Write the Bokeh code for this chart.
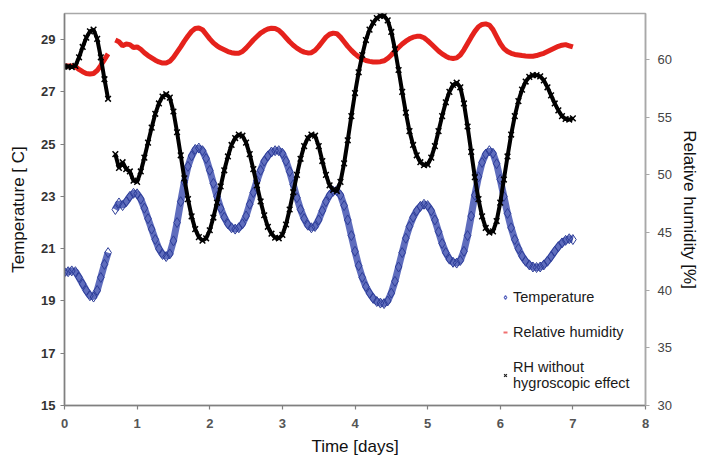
from bokeh.plotting import figure
from bokeh.models import Range1d, LinearAxis, FixedTicker, Legend, LegendItem, ColumnDataSource
from bokeh.embed import file_html
from bokeh.resources import INLINE

N = float("nan")

time_days = [round(0.05 * i, 2) for i in range(141)]

temperature = [
    20.10, 20.12, 20.15, 20.12, 19.90, 19.65, 19.40, 19.20, 19.15, 19.40,
    19.90, 20.40, 20.85, N, 22.50, 22.75, 22.65, 22.80, 23.00, 23.12,
    23.10, 22.90, 22.55, 22.15, 21.75, 21.35, 21.00, 20.78, 20.70, 20.80,
    21.30, 22.00, 22.80, 23.55, 24.15, 24.55, 24.80, 24.85, 24.75, 24.45,
    24.00, 23.50, 23.00, 22.55, 22.20, 21.95, 21.80, 21.75, 21.80, 21.95,
    22.25, 22.70, 23.15, 23.60, 24.00, 24.35, 24.55, 24.70, 24.75, 24.75,
    24.65, 24.35, 23.95, 23.45, 22.95, 22.50, 22.15, 21.90, 21.80, 21.85,
    22.10, 22.45, 22.80, 23.05, 23.20, 23.22, 23.05, 22.65, 22.10, 21.50,
    20.90, 20.35, 19.90, 19.55, 19.30, 19.10, 18.98, 18.92, 18.90, 19.00,
    19.30, 19.75, 20.30, 20.85, 21.40, 21.85, 22.20, 22.45, 22.62, 22.70,
    22.65, 22.45, 22.10, 21.65, 21.20, 20.85, 20.60, 20.48, 20.45, 20.55,
    20.90, 21.50, 22.25, 23.05, 23.75, 24.30, 24.62, 24.75, 24.65, 24.25,
    23.65, 23.00, 22.35, 21.80, 21.35, 21.00, 20.72, 20.52, 20.38, 20.30,
    20.28, 20.30, 20.38, 20.52, 20.70, 20.90, 21.08, 21.22, 21.32, 21.38,
    21.35,
]

relative_humidity = [
    59.45, 59.45, 59.45, 59.40, 59.15, 58.95, 58.80, 58.75, 58.80, 59.05,
    59.50, 60.00, 60.50, N, 61.70, 61.55, 61.20, 61.35, 61.30, 61.05,
    61.10, 60.90, 60.60, 60.35, 60.15, 59.95, 59.80, 59.70, 59.70, 59.85,
    60.20, 60.65, 61.10, 61.60, 62.05, 62.45, 62.70, 62.75, 62.60, 62.20,
    61.80, 61.45, 61.20, 61.00, 60.85, 60.70, 60.60, 60.55, 60.55, 60.70,
    61.00, 61.35, 61.70, 62.00, 62.30, 62.50, 62.65, 62.72, 62.70, 62.55,
    62.25, 61.90, 61.55, 61.25, 61.00, 60.80, 60.65, 60.58, 60.60, 60.80,
    61.15, 61.55, 61.95, 62.20, 62.30, 62.25, 61.95, 61.55, 61.15, 60.80,
    60.50, 60.25, 60.05, 59.92, 59.85, 59.80, 59.80, 59.82, 59.90, 60.10,
    60.40, 60.75, 61.05, 61.35, 61.60, 61.80, 61.95, 62.02, 62.02, 61.90,
    61.65, 61.35, 61.05, 60.75, 60.50, 60.30, 60.15, 60.10, 60.15, 60.40,
    60.85, 61.40, 61.95, 62.45, 62.85, 63.05, 63.10, 63.00, 62.60, 62.00,
    61.40, 60.95, 60.70, 60.55, 60.45, 60.40, 60.35, 60.32, 60.30, 60.30,
    60.35, 60.45, 60.55, 60.70, 60.85, 61.00, 61.15, 61.25, 61.30, 61.20,
    61.10,
]

rh_without_hygroscopic = [
    59.40, 59.40, 59.35, 59.45, 60.20, 61.10, 61.90, 62.45, 62.60, 61.80,
    60.20, 58.30, 56.60, N, 51.80, 50.60, 51.10, 50.50, 50.30, 49.50,
    49.40, 50.30, 51.50, 52.80, 54.10, 55.30, 56.20, 56.80, 57.00, 56.70,
    55.50, 53.70, 51.70, 49.70, 47.90, 46.40, 45.30, 44.60, 44.30, 44.50,
    45.20, 46.30, 47.60, 49.00, 50.40, 51.60, 52.60, 53.20, 53.50, 53.40,
    52.80, 51.80, 50.50, 49.10, 47.70, 46.50, 45.50, 44.90, 44.55, 44.50,
    44.80, 45.70, 47.00, 48.50, 50.00, 51.40, 52.50, 53.20, 53.50, 53.40,
    52.50, 51.20, 50.00, 49.10, 48.70, 48.60, 49.40, 51.00, 53.00, 55.10,
    57.10, 58.90, 60.40, 61.70, 62.60, 63.20, 63.60, 63.80, 63.80, 63.40,
    62.40, 60.90, 59.10, 57.20, 55.40, 53.80, 52.60, 51.70, 51.10, 50.85,
    50.90, 51.50, 52.50, 53.80, 55.10, 56.30, 57.20, 57.80, 58.00, 57.60,
    56.20, 54.20, 52.00, 49.80, 47.90, 46.40, 45.40, 45.00, 45.10, 46.00,
    47.60, 49.60, 51.60, 53.50, 55.10, 56.40, 57.40, 58.10, 58.50, 58.65,
    58.65, 58.55, 58.20, 57.60, 56.90, 56.20, 55.60, 55.10, 54.85, 54.80,
    54.90,
]

x_ticks = [0, 1, 2, 3, 4, 5, 6, 7, 8]
temp_ticks = [15, 17, 19, 21, 23, 25, 27, 29]
rh_ticks = [30, 35, 40, 45, 50, 55, 60]

legend_labels = ["Temperature", "Relative humidity", "RH without\nhygroscopic effect"]

FONT = "Liberation Sans"
BLUE = "#2d3d98"
BLUE_LIGHT = "#5f6dbd"
RED = "#e5221c"

p = figure(width=702, height=459, output_backend="svg", toolbar_location=None,
           x_range=Range1d(0, 8), y_range=Range1d(15, 30),
           min_border_left=64, min_border_right=57, min_border_top=13, min_border_bottom=54)
p.extra_y_ranges = {"rh": Range1d(30, 64)}
p.grid.visible = False
p.outline_line_color = "#a8a8a8"
p.outline_line_width = 1.5
p.background_fill_color = "white"

src = ColumnDataSource(dict(t=time_days, temp=temperature, rh=relative_humidity, rhw=rh_without_hygroscopic))

# Temperature
p.line("t", "temp", source=src, line_color=BLUE_LIGHT, line_width=7)
p.scatter("t", "temp", source=src, marker="diamond", size=10, fill_color=None,
          line_color=BLUE, line_width=1)
# Relative humidity
p.line("t", "rh", source=src, y_range_name="rh", line_color=RED, line_width=5)
# RH without hygroscopic effect
p.line("t", "rhw", source=src, y_range_name="rh", line_color="black", line_width=4)
p.scatter("t", "rhw", source=src, y_range_name="rh", marker="x", size=8,
          line_color="black", line_width=1.5)

# legend proxies (no visible data)
proxy = ColumnDataSource(dict(x=[N], y=[N]))
lg1 = p.scatter("x", "y", source=proxy, marker="diamond", size=9, fill_color=None, line_color="#5a66c0", line_width=1.2)
lg2 = p.scatter("x", "y", source=proxy, marker="dash", size=7, line_color="#f07070", line_width=2)
lg3 = p.scatter("x", "y", source=proxy, marker="x", size=9, line_color="#222222", line_width=1.2)

legend = Legend(items=[LegendItem(label=legend_labels[0], renderers=[lg1]),
                       LegendItem(label=legend_labels[1], renderers=[lg2]),
                       LegendItem(label=legend_labels[2], renderers=[lg3])],
                location=(436, 14), border_line_color=None, background_fill_alpha=0,
                glyph_width=10, glyph_height=14, label_standoff=3, spacing=19, padding=4,
                label_text_font=FONT, label_text_font_size="14.5px", label_text_color="#1a1a1a",
                label_height=14, margin=0)
p.add_layout(legend, "center")

# axes styling
xa = p.xaxis[0]
xa.ticker = FixedTicker(ticks=x_ticks)
xa.axis_label = "Time [days]"
ya = p.yaxis[0]
ya.ticker = FixedTicker(ticks=temp_ticks)
ya.axis_label = "Temperature [ C]"

ra = LinearAxis(y_range_name="rh", ticker=FixedTicker(ticks=rh_ticks), axis_label="Relative humidity [%]")
p.add_layout(ra, "right")

for ax in (xa, ya, ra):
    ax.axis_label_text_font = FONT
    ax.axis_label_text_font_style = "normal"
    ax.axis_label_text_font_size = "17px"
    ax.axis_label_text_color = "#111111"
    ax.major_label_text_font = FONT
    ax.major_label_text_font_size = "13px"
    ax.minor_tick_line_color = None
    ax.major_tick_in = 0
    ax.major_tick_out = 4
    ax.axis_line_width = 1.5
    ax.major_tick_line_width = 1.2

xa.major_label_text_font_style = "bold"
xa.major_label_text_color = "#555555"
xa.axis_line_color = "#808080"
xa.major_tick_line_color = "#808080"
xa.axis_label_standoff = 6
xa.major_label_standoff = 9

ya.major_label_text_font_style = "bold"
ya.major_label_text_color = "#333333"
ya.axis_line_color = "#808080"
ya.major_tick_line_color = "#808080"
ya.axis_label_standoff = 10

ra.major_label_text_color = "#444444"
ra.axis_line_color = "#a8a8a8"
ra.major_tick_line_color = "#a8a8a8"
ra.major_label_standoff = 8
ra.axis_label_standoff = 5

open("out.html", "w").write(file_html(p, INLINE))
